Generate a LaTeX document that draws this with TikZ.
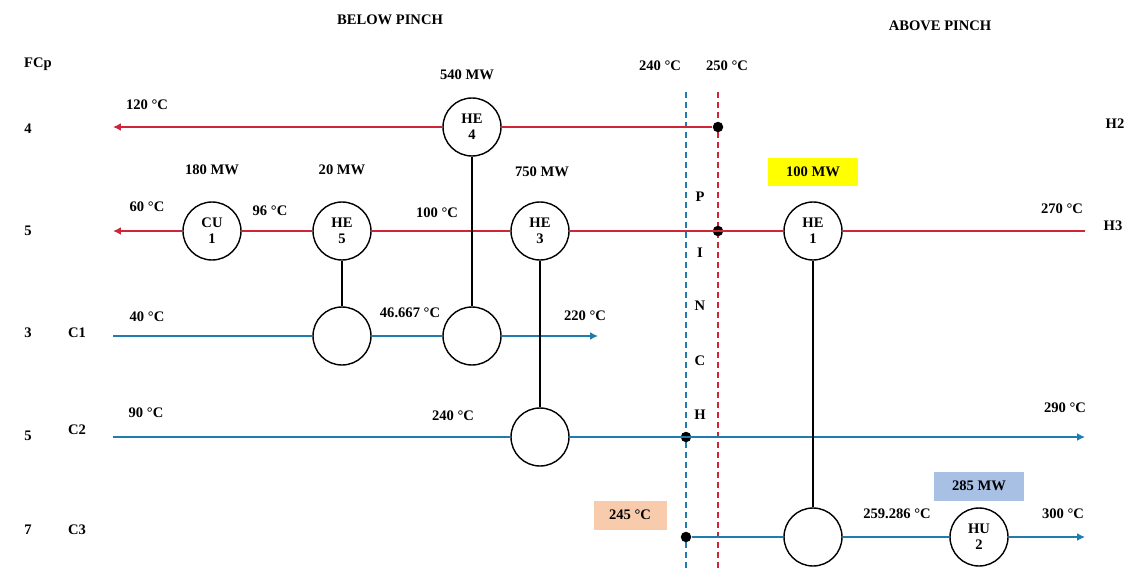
\documentclass[tikz,border=0pt]{standalone}
\usepackage{fontspec}
\setmainfont{Liberation Serif}
\usepackage{xcolor}
\usetikzlibrary{arrows.meta}

\definecolor{hotred}{RGB}{208,36,56}
\definecolor{coldblue}{RGB}{30,124,174}
\definecolor{boxyellow}{RGB}{255,255,0}
\definecolor{boxorange}{RGB}{248,203,173}
\definecolor{boxblue}{RGB}{168,192,228}

\begin{document}
\begin{tikzpicture}[x=0.02cm, y=-0.02cm,
  every node/.style={font=\fontsize{8.3}{9}\selectfont\bfseries, inner sep=1pt},
  hx/.style={draw, circle, fill=white, line width=0.8pt, minimum size=1.16cm, align=center},
  hot/.style={hotred, line width=0.9pt},
  cold/.style={coldblue, line width=0.9pt},
  tip/.style={-{Latex[length=4.5pt,width=4.5pt]}},
  pin/.style={circle, fill=black, inner sep=0pt, minimum size=0.21cm},
  link/.style={black, line width=0.8pt},
  pinchline/.style={line width=0.6pt, dash pattern=on 0.12cm off 0.08cm},
  tag/.style={minimum width=1.8cm, minimum height=0.58cm}]
\useasboundingbox (0,0) rectangle (1126,568);

% headings
\node (below) at (390,20) {BELOW PINCH};
\node (above) at (940,26) {ABOVE PINCH};
\node (fcp) at (38,64) {FCp};

% FCp and stream names
\node (f4) at (28,129) {4};
\node (f5a) at (28,231) {5};
\node (f3) at (28,333) {3};
\node (f5b) at (28,436) {5};
\node (f7) at (28,530) {7};
\node (c1name) at (77,333) {C1};
\node (c2name) at (77,430) {C2};
\node (c3name) at (77,530) {C3};
\node (h2name) at (1115,124) {H2};
\node (h3name) at (1113,226) {H3};

% pinch lines
\coordinate (bluetop) at (686,92);
\coordinate (bluebot) at (686,568);
\coordinate (redtop) at (718,92);
\coordinate (redbot) at (718,568);
\draw[pinchline, coldblue] (bluetop) -- (bluebot);
\draw[pinchline, hotred] (redtop) -- (redbot);
\node (t240) at (660,66) {240 °C};
\node (t250) at (727,66) {250 °C};
\foreach \ch/\yy in {P/197, I/253, N/306, C/361, H/415}
  \node (pinch\ch) at (700,\yy) {\ch};

% exchangers
\node[hx] (he4) at (472,127) {HE\\4};
\node[hx] (cu1) at (212,231) {CU\\1};
\node[hx] (he5) at (342,231) {HE\\5};
\node[hx] (he3) at (540,231) {HE\\3};
\node[hx] (he1) at (813,231) {HE\\1};
\node[hx] (he5c) at (342,336) {};
\node[hx] (he4c) at (472,336) {};
\node[hx] (he3c) at (540,437) {};
\node[hx] (he1c) at (813,537) {};
\node[hx] (hu2) at (979,537) {HU\\2};

% pinch points
\node[pin] (h2pin) at (718,127) {};
\node[pin] (h3pin) at (718,231) {};
\node[pin] (c2pin) at (686,437) {};
\node[pin] (c3pin) at (686,537) {};

% stream ends
\coordinate (h2out) at (113,127);
\coordinate (h3in) at (1085,231);
\coordinate (h3out) at (113,231);
\coordinate (c1in) at (113,336);
\coordinate (c1out) at (598,336);
\coordinate (c2in) at (113,437);
\coordinate (c2out) at (1085,437);
\coordinate (c3out) at (1085,537);

% hot streams
\draw[hot, tip] (h2pin) -- (he4) -- (h2out);
\draw[hot, tip] (h3in) -- (he1) -- (h3pin.center) -- (he3) -- (he5) -- (cu1) -- (h3out);

% cold streams
\draw[cold, tip] (c1in) -- (he5c) -- (he4c) -- (c1out);
\draw[cold, tip] (c2in) -- (he3c) -- (c2pin.center) -- (c2out);
\draw[cold, tip] (c3pin) -- (he1c) -- (hu2) -- (c3out);

% matches
\draw[link] (he5) -- (he5c);
\draw[link] (he4) -- (he4c);
\draw[link] (he3) -- (he3c);
\draw[link] (he1) -- (he1c);

% duties
\node (q4) at (467,75) {540 MW};
\node (qcu1) at (212,170) {180 MW};
\node (q5) at (342,170) {20 MW};
\node (q3) at (542,172) {750 MW};
\node[tag, fill=boxyellow] (q1) at (813,172) {100 MW};
\node[tag, fill=boxblue] (qhu2) at (979,486) {285 MW};

% temperatures
\node (t120) at (147,105) {120 °C};
\node (t60) at (147,207) {60 °C};
\node (t96) at (270,211) {96 °C};
\node (t100) at (437,213) {100 °C};
\node (t270) at (1062,209) {270 °C};
\node (t40) at (147,317) {40 °C};
\node (t46) at (410,313) {46.667 °C};
\node (t220) at (585,316) {220 °C};
\node (t90) at (146,413) {90 °C};
\node (t240b) at (453,416) {240 °C};
\node (t290) at (1065,408) {290 °C};
\node[tag, minimum width=1.46cm, fill=boxorange] (t245) at (630,515) {245 °C};
\node (t259) at (897,514) {259.286 °C};
\node (t300) at (1063,514) {300 °C};
\end{tikzpicture}
\end{document}
